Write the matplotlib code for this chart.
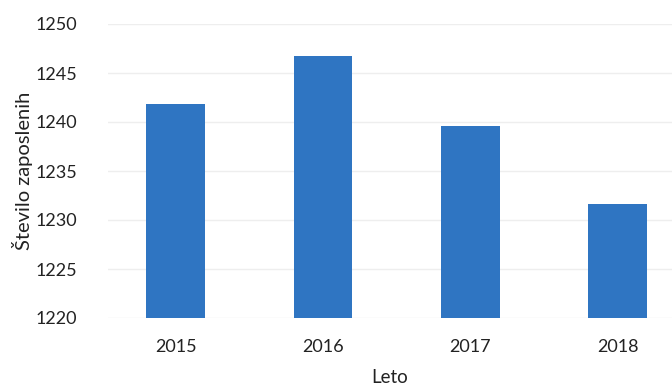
import matplotlib.pyplot as plt

plt.rcParams['font.family'] = ['Lato', 'DejaVu Sans']

years = ['2015', '2016', '2017', '2018']
employees = [1241.8, 1246.7, 1239.6, 1231.6]

fig = plt.figure(figsize=(6.72, 3.87), dpi=100)
ax = fig.add_axes([108 / 672, 1 - 318 / 387, (672 - 108) / 672, (318 - 24) / 387])

ax.bar(range(len(years)), [v - 1220 for v in employees], bottom=1220,
       width=0.4, color='#2f75c2', zorder=3)

ax.set_ylim(1220, 1250)
ax.set_xlim(-0.46, 3.37)
ax.set_yticks(range(1220, 1251, 5))
ax.set_xticks(range(len(years)))
ax.set_xticklabels(years)
ax.grid(axis='y', color='#eeeeee', linewidth=1, zorder=0)
for s in ax.spines.values():
    s.set_visible(False)
ax.tick_params(length=0, labelsize=13, colors='#222222')
ax.tick_params(axis='y', pad=22)
ax.tick_params(axis='x', pad=15)

ax.set_ylabel('Število zaposlenih', fontsize=14.5, color='#222222', labelpad=2)
ax.set_xlabel('Leto', fontsize=13.5, color='#222222', labelpad=10)

plt.savefig('out.png', dpi=100)
